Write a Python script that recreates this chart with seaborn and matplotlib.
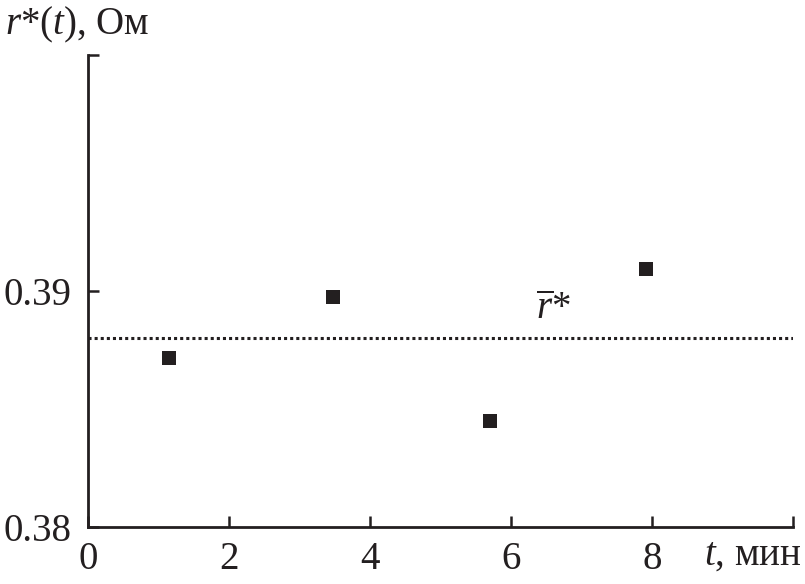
import matplotlib
matplotlib.use("Agg")
import matplotlib.pyplot as plt
import seaborn as sns
import pandas as pd

t_min = [1.15, 3.47, 5.70, 7.91]
r_ohm = [0.38715, 0.38974, 0.38451, 0.39094]
r_mean = 0.388
x_ticks = [0, 2, 4, 6, 8, 10]
x_labels = ["0", "2", "4", "6", "8", ""]
y_ticks = [0.38, 0.39, 0.40]
y_labels = ["0.38", "0.39", ""]

sns.set_theme(style="ticks")
plt.rcParams["font.family"] = ["Liberation Serif", "DejaVu Serif"]
plt.rcParams["mathtext.fontset"] = "custom"
plt.rcParams["mathtext.rm"] = "Liberation Serif"
plt.rcParams["mathtext.it"] = "Liberation Serif:italic"

ink = "#231f20"
fig = plt.figure(figsize=(8.05, 5.84), dpi=100)
ax = fig.add_axes([88/805, 57/584, 705/805, 472/584])

df = pd.DataFrame({"t": t_min, "r": r_ohm})
sns.scatterplot(data=df, x="t", y="r", ax=ax, marker="s", s=100, color=ink,
                edgecolor=ink, linewidth=0, zorder=3)
ax.axhline(r_mean, color=ink, linestyle=(0, (1, 1)), linewidth=2.2)

ax.set_xlim(0, 10)
ax.set_ylim(0.38, 0.40)
ax.set_xticks(x_ticks)
ax.set_xticklabels(x_labels)
ax.set_yticks(y_ticks)
ax.set_yticklabels(y_labels)
ax.tick_params(direction="in", length=8, width=1.8, labelsize=28, colors=ink)
ax.tick_params(axis="x", pad=10)
ax.tick_params(axis="y", pad=12)
ax.set_xlabel("")
ax.set_ylabel("")
for s in ["top", "right"]:
    ax.spines[s].set_visible(False)
for s in ["left", "bottom"]:
    ax.spines[s].set_linewidth(2)
    ax.spines[s].set_color(ink)

fig.text(5/805, 1 - 25/584, r"$r$*($t$), Ом", fontsize=28, va="center", ha="left", color=ink)
fig.text(802/805, 1 - 555/584, r"$t$, мин", fontsize=28, va="center", ha="right", color=ink)
ax.text(6.6, 0.3892, r"$\overline{r}$*", fontsize=28, ha="center", va="center", color=ink)

fig.savefig("out.png", dpi=100)
